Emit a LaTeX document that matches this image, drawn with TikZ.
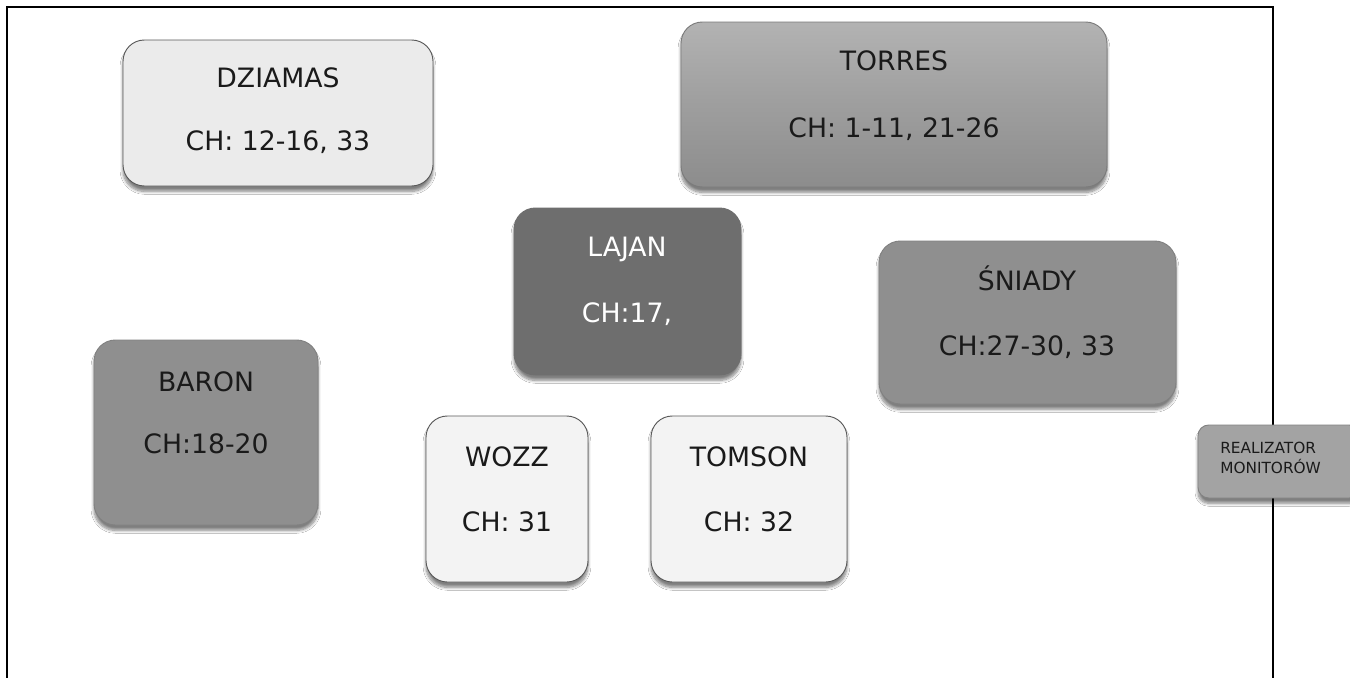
\documentclass[tikz,border=0pt]{standalone}
\usepackage{fontspec}
\setmainfont{DejaVu Sans}
\usetikzlibrary{shadows.blur}
\definecolor{lightbox}{HTML}{EBEBEB}
\definecolor{whitebox}{HTML}{F3F3F3}
\definecolor{midbox}{HTML}{8F8F8F}
\definecolor{darkbox}{HTML}{6E6E6E}
\definecolor{realbox}{HTML}{A3A3A3}
\definecolor{edge}{HTML}{5A5A5A}
\definecolor{ink}{HTML}{1A1A1A}
\begin{document}
\begin{tikzpicture}[x=0.75pt,y=-0.75pt,
  box/.style={draw=edge, line width=0.7pt, rounded corners=16pt, inner sep=0pt,
    blur shadow={shadow xshift=0pt, shadow yshift=-4pt, shadow opacity=50, shadow blur steps=8}},
  lbl/.style={font=\fontsize{20}{24}\selectfont, text=ink, inner sep=0pt, anchor=base},
  small/.style={font=\fontsize{11.5}{14}\selectfont, text=ink, inner sep=0pt, anchor=base west}]
\clip (0,0) rectangle (1350,678);
\fill[white] (0,0) rectangle (1350,678);
\draw[line width=1.4pt] (7,678) -- (7,7) -- (1273,7) -- (1273,678);
% boxes
\node[box, fill=lightbox, minimum width=232.5pt, minimum height=109.5pt] (dziamas) at (278,113) {};
\node[box, draw=edge!80, top color=black!30, bottom color=black!45, middle color=black!38, minimum width=319.5pt, minimum height=123.75pt] (torres) at (894,104.5) {};
\node[box, draw=darkbox, fill=darkbox, minimum width=170.25pt, minimum height=125.25pt] (lajan) at (627.5,291.5) {};
\node[box, draw=midbox!90!black, fill=midbox, minimum width=222.75pt, minimum height=122.25pt] (sniady) at (1027.5,322.5) {};
\node[box, draw=midbox!90!black, fill=midbox, minimum width=168pt, minimum height=138.75pt] (baron) at (206,432.5) {};
\node[box, fill=whitebox, minimum width=121.5pt, minimum height=124.5pt] (wozz) at (507,499) {};
\node[box, fill=whitebox, minimum width=147pt, minimum height=124.5pt] (tomson) at (749,499) {};
\node[box, draw=realbox!80!black, fill=realbox, rounded corners=8pt, minimum width=121.5pt, minimum height=54.75pt] (realizator) at (1279,461.5) {};
% labels
\node[lbl] (dziamasA) at (278,87) {DZIAMAS};
\node[lbl] (dziamasB) at (278,150) {CH: 12-16, 33};
\node[lbl] (torresA) at (894,70) {TORRES};
\node[lbl] (torresB) at (894,137) {CH: 1-11, 21-26};
\node[lbl, text=white] (lajanA) at (627,256) {LAJAN};
\node[lbl, text=white] (lajanB) at (627,322) {CH:17,};
\node[lbl] (sniadyA) at (1027,290) {ŚNIADY};
\node[lbl] (sniadyB) at (1027,355) {CH:27-30, 33};
\node[lbl] (baronA) at (206,391) {BARON};
\node[lbl] (baronB) at (206,453) {CH:18-20};
\node[lbl] (wozzA) at (507,466) {WOZZ};
\node[lbl] (wozzB) at (507,531) {CH: 31};
\node[lbl] (tomsonA) at (749,466) {TOMSON};
\node[lbl] (tomsonB) at (749,531) {CH: 32};
\node[small] (realA) at (1220,453) {REALIZATOR};
\node[small] (realB) at (1220,473) {MONITORÓW};
\end{tikzpicture}
\end{document}
